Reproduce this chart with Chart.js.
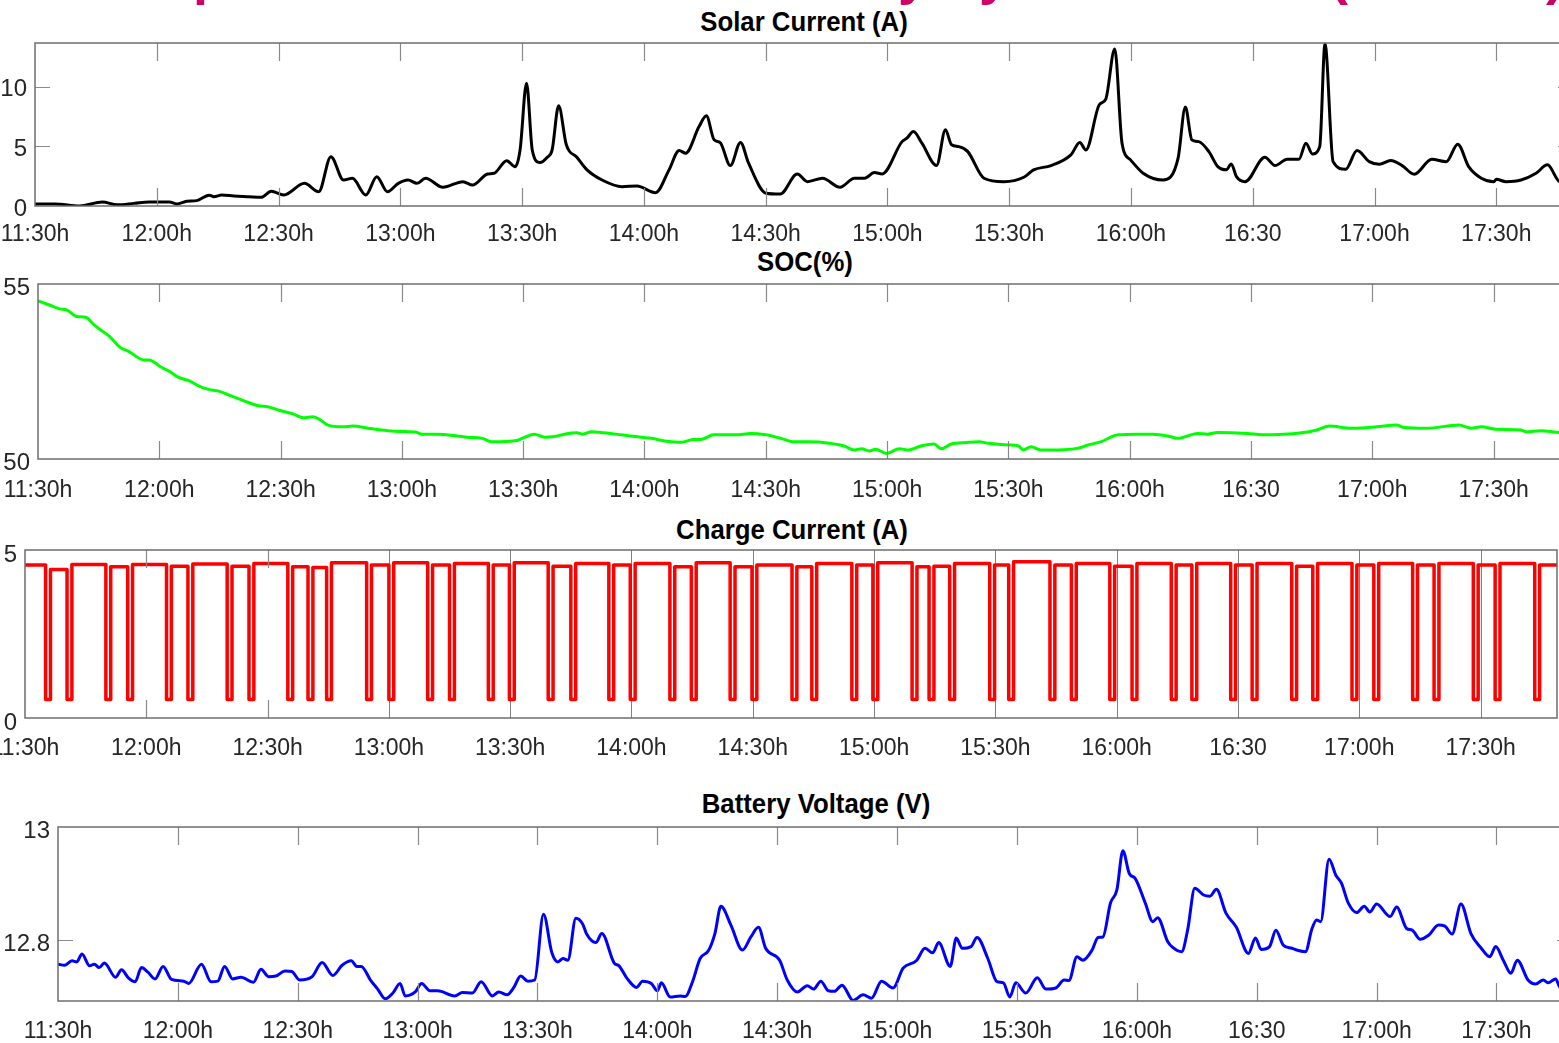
<!DOCTYPE html>
<html><head><meta charset="utf-8">
<script src="https://cdn.jsdelivr.net/npm/chart.js@4.4.1/dist/chart.umd.min.js"></script>
<style>
html,body{margin:0;padding:0;background:#fff;overflow:hidden;width:1559px;height:1043px;}
#wrap{position:relative;width:1559px;height:1043px;overflow:hidden;background:#fff;}
canvas{position:absolute;left:0;}
.ttl{position:absolute;font:bold 28px 'Liberation Sans',Arial,sans-serif;color:#000;white-space:nowrap;transform:translate(-50%,-50%) scaleX(0.92);line-height:1;}
.pk{position:absolute;top:-52px;font:bold 54px 'Liberation Sans',Arial,sans-serif;color:#cf0068;line-height:1;white-space:nowrap;}
</style></head><body><div id="wrap">
<span class="pk" style="left:193px">p</span>
<span class="pk" style="left:898px">y</span>
<span class="pk" style="left:979px">y</span>
<span class="pk" style="left:1330px">(</span>
<span class="pk" style="left:1546px">)</span>
<div class="ttl" style="left:804px;top:22px">Solar Current (A)</div>
<div class="ttl" style="left:805px;top:262px">SOC(%)</div>
<div class="ttl" style="left:792px;top:530px">Charge Current (A)</div>
<div class="ttl" style="left:816px;top:804px">Battery Voltage (V)</div>
<canvas id="c1"></canvas><canvas id="c2"></canvas><canvas id="c3"></canvas><canvas id="c4"></canvas>
</div>
<script>
// time axis: minutes after 11:30
const xMax = 378.9;
const xTickMinutes = [0,30,60,90,120,150,180,210,240,270,300,330,360];
const xTickLabels = ['11:30h','12:00h','12:30h','13:00h','13:30h','14:00h','14:30h','15:00h','15:30h','16:00h','16:30','17:00h','17:30h'];

// Solar current (A)
const solarTime = [0,4.9,11.0,16.6,20.2,24.4,28.1,33.1,34.9,37.4,39.8,42.9,44.1,46.0,49.0,52.7,55.7,58.2,61.3,66.4,69.9,72.9,76.0,78.2,81.5,84.2,86.8,89.5,91.9,94.1,96.2,100.5,105.4,107.8,111.5,113.1,116.2,118.3,119.5,121.1,122.5,124.4,126.2,127.4,129.0,130.9,133.5,136.0,139.7,144.6,148.3,152.9,156.2,158.7,160.3,163.6,165.4,167.3,168.8,171.3,173.8,175.8,180.1,183.6,187.8,190.3,194.0,198.3,201.9,204.4,206.8,208.7,213.6,214.8,216.4,218.5,222.1,224.3,225.8,227.6,229.8,233.8,238.7,243.6,246.0,250.3,255.2,257.4,258.9,262.2,263.8,266.0,267.8,269.9,273.0,277.9,281.6,283.4,285.0,286.7,289.2,291.4,293.5,294.7,296.0,298.1,303.0,305.5,308.5,311.4,313.1,314.7,316.5,317.8,319.8,322.9,325.7,328.7,331.2,334.0,336.8,339.8,344.1,347.7,350.5,353.2,356.3,359.4,360.0,362.4,366.1,369.8,372.6,375.6,379];
const solarAmps = [0.17,0.17,0.0,0.34,0.1,0.22,0.34,0.34,0.17,0.39,0.45,0.9,0.78,0.92,0.84,0.78,0.73,1.23,0.92,1.9,1.2,4.14,2.18,2.32,0.92,2.46,1.2,1.9,2.18,1.9,2.33,1.57,2.04,1.76,2.69,2.75,3.8,3.3,4.7,10.3,4.7,3.64,4.09,4.7,8.4,5.13,4.09,3.03,2.18,1.62,1.68,1.12,3.03,4.65,4.43,6.66,7.56,5.55,5.32,3.39,5.32,3.59,1.07,1.0,2.69,2.04,2.33,1.57,2.33,2.33,2.8,2.69,5.4,5.69,6.24,5.27,3.39,6.39,5.13,4.98,4.56,2.33,2.04,2.41,3.03,3.39,4.29,5.32,4.7,8.49,8.97,13.17,5.27,3.87,2.75,2.18,4.0,8.3,5.55,5.4,4.56,3.3,3.03,3.53,2.46,2.04,4.09,3.39,3.92,3.92,5.27,4.37,4.98,13.6,3.72,3.08,4.65,3.72,3.5,3.81,3.39,2.66,3.92,3.72,5.18,3.3,2.33,2.04,2.24,2.04,2.18,2.75,3.45,2.04,1.9];
const solarYTicks = [0,5,10];

// State of charge (%)
const socTime = [0,2.8,5.3,7.1,9.6,11.8,13.9,15.8,17.6,20.3,22.5,26.2,27.5,30.5,32.4,34.8,37.3,39.7,42.2,44.7,47.1,50.8,54.5,57.0,59.4,63.1,65.6,68.0,69.9,71.7,75.4,77.9,81.6,86.5,91.4,93.3,95.1,98.8,103.7,106.2,109.9,112.3,118.5,120.3,122.8,125.3,127.7,130.2,133.3,134.7,136.9,140.0,144.3,149.3,151.7,155.4,159.1,162.2,164.0,167.1,172.6,176.3,180.0,183.4,187.1,190.8,195.7,199.4,201.9,203.7,205.6,207.1,209.9,213.0,215.4,218.5,221.6,223.4,225.9,229.6,232.7,235.1,240.0,242.5,243.7,245.6,248.0,252.3,257.3,259.7,262.8,267.1,272.0,275.7,279.4,281.9,286.8,289.3,291.7,299.1,302.8,312.6,316.3,319.4,324.9,331.1,336.0,337.9,343.4,351.4,354.5,356.9,360.6,366.8,368.0,371.7,376.3,379];
const socPct = [54.52,54.4,54.29,54.26,54.07,54.05,53.83,53.66,53.51,53.19,53.07,52.83,52.83,52.62,52.51,52.33,52.24,52.09,51.99,51.94,51.83,51.67,51.52,51.49,51.4,51.29,51.18,51.21,51.11,50.97,50.92,50.94,50.88,50.81,50.78,50.77,50.71,50.71,50.66,50.62,50.59,50.49,50.53,50.62,50.71,50.62,50.64,50.71,50.75,50.71,50.78,50.75,50.69,50.62,50.59,50.51,50.48,50.56,50.56,50.69,50.69,50.73,50.69,50.6,50.49,50.49,50.45,50.37,50.26,50.29,50.23,50.28,50.16,50.29,50.26,50.38,50.43,50.29,50.43,50.47,50.49,50.45,50.4,50.37,50.26,50.35,50.26,50.26,50.31,50.4,50.49,50.69,50.71,50.71,50.66,50.59,50.73,50.71,50.76,50.73,50.69,50.75,50.83,50.94,50.88,50.92,50.97,50.9,50.88,50.97,50.88,50.92,50.85,50.83,50.78,50.81,50.76,50.76];
const socYTicks = [50,55];

// Charge current (A): times of the short drops, plateau levels between them, drop level
const chargeDipTimes = [5.7,11.0,20.6,26.0,35.6,40.9,50.6,56.0,65.6,70.6,75.2,85.1,90.6,100.2,105.6,115.2,120.4,130.0,135.6,145.0,150.3,160.1,165.4,175.0,180.4,190.3,195.2,205.1,210.3,220.0,224.2,229.3,239.2,243.9,254.1,259.4,268.9,274.4,284.1,289.2,298.8,304.1,313.9,319.1,328.8,334.2,343.8,349.1,358.8,364.2,374.0];
const chargeLevels = [4.55,4.42,4.57,4.5,4.57,4.52,4.58,4.52,4.6,4.5,4.48,4.62,4.55,4.62,4.55,4.6,4.55,4.62,4.52,4.6,4.55,4.6,4.5,4.62,4.5,4.55,4.5,4.6,4.55,4.62,4.5,4.52,4.6,4.55,4.65,4.55,4.6,4.52,4.6,4.55,4.6,4.55,4.6,4.52,4.6,4.55,4.6,4.55,4.6,4.55,4.6,4.55];
const chargeLow = 0.55;
const chargeYTicks = [0,5];

// Battery voltage (V)
const batteryTime = [0,1.6,3.5,4.7,6.0,7.9,9.1,10.3,11.6,14.4,15.9,17.6,19.3,20.9,22.5,24.3,26.3,28.4,31.5,32.7,35.9,38.3,40.0,41.7,43.7,45.8,48.9,50.8,52.7,54.5,56.8,58.5,60.5,63.6,66.1,68.8,71.1,73.4,74.8,75.9,78.2,80.0,81.9,83.8,85.6,86.9,89.4,91.0,93.1,95.0,99.3,101.2,103.7,105.9,108.7,110.3,112.4,114.0,115.8,117.6,119.3,121.5,123.6,125.1,126.4,127.6,129.6,131.3,132.3,134.6,136.1,139.2,140.4,142.5,144.8,146.3,148.5,150.0,151.0,153.2,155.7,157.0,158.8,160.7,162.8,164.4,165.9,168.4,171.3,173.4,175.3,177.1,180.6,182.5,185.0,187.5,189.1,190.9,192.8,194.3,196.2,199.0,201.5,203.6,206.1,209.0,211.5,214.8,217.0,218.9,220.4,223.3,224.8,226.3,228.5,230.0,232.7,235.0,236.6,238.2,239.7,242.2,245.1,247.2,249.7,251.8,253.0,255.0,256.5,258.8,260.3,261.5,263.4,265.0,266.5,268.1,269.6,272.1,274.0,275.2,277.7,278.9,281.2,282.7,284.5,286.7,288.3,289.9,292.3,294.9,297.9,299.7,301.1,303.2,304.8,306.6,308.8,310.4,312.2,313.8,315.0,316.0,318.1,319.8,321.2,322.9,325.0,326.9,328.3,330.0,333.4,335.0,337.5,338.9,340.9,343.0,345.5,347.1,348.9,351.1,353.6,356.1,358.3,359.8,361.7,363.6,365.2,367.9,369.8,371.7,372.9,374.8,375.8,379];
const batteryVolts = [12.758,12.756,12.764,12.762,12.776,12.755,12.758,12.752,12.76,12.735,12.748,12.734,12.727,12.752,12.744,12.732,12.754,12.731,12.728,12.724,12.758,12.727,12.728,12.754,12.732,12.735,12.726,12.749,12.736,12.737,12.746,12.745,12.73,12.736,12.761,12.738,12.756,12.764,12.754,12.754,12.73,12.714,12.697,12.707,12.724,12.702,12.709,12.724,12.711,12.711,12.702,12.708,12.707,12.727,12.702,12.709,12.704,12.716,12.737,12.728,12.73,12.846,12.778,12.762,12.768,12.765,12.839,12.829,12.811,12.796,12.812,12.76,12.755,12.732,12.717,12.728,12.724,12.711,12.725,12.7,12.702,12.701,12.727,12.768,12.782,12.812,12.86,12.827,12.783,12.806,12.823,12.786,12.765,12.73,12.709,12.72,12.714,12.728,12.711,12.71,12.721,12.694,12.704,12.698,12.728,12.716,12.751,12.764,12.786,12.778,12.796,12.754,12.804,12.786,12.789,12.805,12.768,12.727,12.725,12.7,12.725,12.707,12.734,12.714,12.716,12.73,12.729,12.771,12.765,12.783,12.805,12.806,12.866,12.889,12.958,12.918,12.909,12.866,12.833,12.84,12.798,12.788,12.78,12.818,12.892,12.88,12.878,12.89,12.848,12.823,12.777,12.804,12.784,12.789,12.818,12.792,12.786,12.782,12.78,12.82,12.836,12.833,12.943,12.915,12.901,12.866,12.849,12.86,12.85,12.864,12.842,12.859,12.821,12.818,12.802,12.809,12.827,12.825,12.811,12.864,12.812,12.787,12.771,12.789,12.765,12.742,12.765,12.73,12.723,12.73,12.725,12.732,12.718,12.71];
const batteryYTicks = [12.8,13];

const zip = (xs, ys) => xs.map((x, i) => ({x, y: ys[i]}));
const chargeData = [{x: 0, y: chargeLevels[0]}];
chargeDipTimes.forEach((t, i) => {
  chargeData.push({x: t - 0.6, y: chargeLevels[i]}, {x: t - 0.6, y: chargeLow},
                  {x: t + 0.6, y: chargeLow}, {x: t + 0.6, y: chargeLevels[i + 1]});
});
chargeData.push({x: 379, y: chargeLevels[chargeLevels.length - 1]});

const axesDecor = {
  id: 'axesDecor',
  beforeDatasetsDraw(chart, a, o) {
    if (o.fullFrom == null) return;
    const {ctx, chartArea: {top, bottom}} = chart; const xs = chart.scales.x;
    ctx.save(); ctx.strokeStyle = '#808080'; ctx.lineWidth = 1;
    xs.ticks.forEach((t, i) => {
      if (i < o.fullFrom) return;
      const p = Math.round(xs.getPixelForValue(t.value)) + 0.5;
      ctx.beginPath(); ctx.moveTo(p, top); ctx.lineTo(p, bottom); ctx.stroke();
    });
    ctx.restore();
  },
  afterDatasetsDraw(chart, a, o) {
    const {ctx, chartArea: {left, right, top, bottom}} = chart;
    const xs = chart.scales.x, ys = chart.scales.y;
    ctx.save(); ctx.strokeStyle = '#8a8a8a'; ctx.lineWidth = 1.2;
    xs.ticks.forEach((t, i) => {
      if (o.fullFrom != null && i >= o.fullFrom) return;
      const p = Math.round(xs.getPixelForValue(t.value)) + 0.5;
      if (p < left + 2 || p > right - 2) return;
      ctx.beginPath(); ctx.moveTo(p, top); ctx.lineTo(p, top + 18);
      ctx.moveTo(p, bottom); ctx.lineTo(p, bottom - 18); ctx.stroke();
    });
    ys.ticks.forEach(t => {
      const p = Math.round(ys.getPixelForValue(t.value)) + 0.5;
      if (p < top + 2 || p > bottom - 2) return;
      ctx.beginPath(); ctx.moveTo(left, p); ctx.lineTo(left + 15, p);
      ctx.moveTo(right, p); ctx.lineTo(right - 15, p); ctx.stroke();
    });
    ctx.strokeStyle = '#6e6e6e'; ctx.lineWidth = 1.5;
    ctx.strokeRect(left, top, right - left, bottom - top);
    ctx.restore();
  }
};

const FONT = "'Liberation Sans', Arial, sans-serif";
function panel(id, c) {
  const PT = 20, XH = 60, W = 1600;
  const cv = document.getElementById(id);
  cv.width = W; cv.height = c.bottom - c.top + PT + XH;
  cv.style.top = (c.top - PT) + 'px';
  cv.style.width = W + 'px'; cv.style.height = cv.height + 'px';
  new Chart(cv, {
    type: 'line',
    data: {datasets: [{data: c.data, borderColor: c.color, borderWidth: c.lw, pointRadius: 0, fill: false,
      cubicInterpolationMode: c.smooth ? 'monotone' : 'default', tension: 0,
      borderJoinStyle: 'round', borderCapStyle: 'round'}]},
    options: {
      responsive: false, animation: false, events: [],
      layout: {padding: {left: 0, top: PT, right: W - c.right, bottom: 0}},
      plugins: {legend: {display: false}, tooltip: {enabled: false}, axesDecor: {fullFrom: c.fullFrom}},
      scales: {
        x: {type: 'linear', min: 0, max: xMax, grid: {display: false, drawTicks: false}, border: {display: false},
          afterBuildTicks: s => { s.ticks = xTickMinutes.map(v => ({value: v})); },
          afterFit: s => { s.height = XH; s.paddingLeft = 0; s.paddingRight = 0; },
          ticks: {autoSkip: false, maxRotation: 0, minRotation: 0, padding: c.xPad, color: '#262626',
            font: {family: FONT, size: 23}, callback: (v, i) => xTickLabels[i]}},
        y: {type: 'linear', min: c.yMin, max: c.yMax, grid: {display: false, drawTicks: false}, border: {display: false},
          afterBuildTicks: s => { s.ticks = c.yTicks.map(v => ({value: v})); },
          afterFit: s => { s.width = c.left; s.paddingTop = 0; s.paddingBottom = 0; },
          ticks: {padding: 8, labelOffset: c.yOff, color: '#262626', font: {family: FONT, size: 24},
            callback: (v, i) => String(c.yTicks[i])}}
      }
    },
    plugins: [axesDecor]
  });
}

panel('c1', {top: 43, bottom: 206, left: 35, right: 1573, yMin: 0, yMax: 13.67, yTicks: solarYTicks, yOff: 3,
  xPad: 15, data: zip(solarTime, solarAmps), color: '#000000', lw: 3, smooth: true});
panel('c2', {top: 284, bottom: 459, left: 38, right: 1570, yMin: 50, yMax: 55, yTicks: socYTicks, yOff: 4,
  xPad: 18, data: zip(socTime, socPct), color: '#00ff00', lw: 3, smooth: true});
panel('c3', {top: 550, bottom: 718, left: 25, right: 1557, yMin: 0, yMax: 5, yTicks: chargeYTicks, yOff: 5,
  xPad: 17, data: chargeData, color: '#ff0000', lw: 3.5, smooth: false, fullFrom: 3});
panel('c4', {top: 827, bottom: 1001, left: 58, right: 1572, yMin: 12.693, yMax: 13, yTicks: batteryYTicks, yOff: 4,
  xPad: 17, data: zip(batteryTime, batteryVolts), color: '#0000ff', lw: 3, smooth: true});
</script>
</body></html>
